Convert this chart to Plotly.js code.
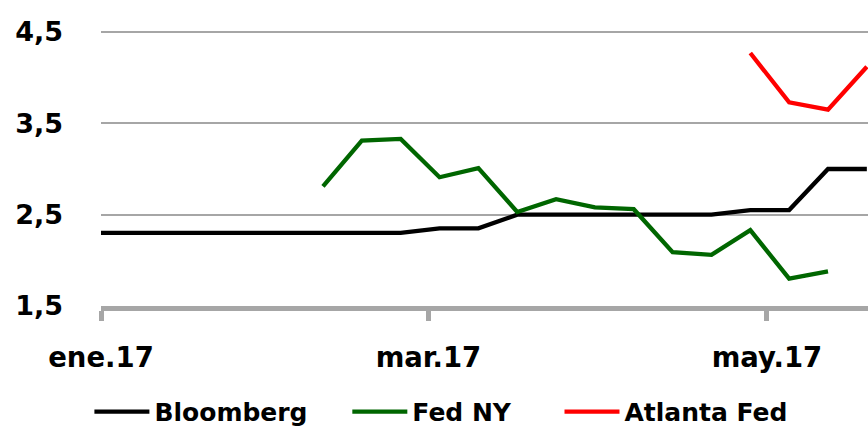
<!DOCTYPE html>
<html>
<head>
<meta charset="utf-8">
<script src="https://cdn.plot.ly/plotly-3.0.1.min.js"></script>
<style>html,body{margin:0;padding:0;background:#fff;overflow:hidden;}</style>
</head>
<body>
<div id="chart" style="width:868px;height:427px;"></div>
<script>
// Weekly observations (Fridays)
const bloombergDates = ['2016-12-30','2017-01-06','2017-01-13','2017-01-20','2017-01-27','2017-02-03','2017-02-10','2017-02-17','2017-02-24','2017-03-03','2017-03-10','2017-03-17','2017-03-24','2017-03-31','2017-04-07','2017-04-14','2017-04-21','2017-04-28','2017-05-05','2017-05-12','2017-05-19'];
const bloombergValues = [2.3,2.3,2.3,2.3,2.3,2.3,2.3,2.3,2.3,2.35,2.35,2.5,2.5,2.5,2.5,2.5,2.5,2.55,2.55,3.0,3.0];

const fedNYDates = ['2017-02-10','2017-02-17','2017-02-24','2017-03-03','2017-03-10','2017-03-17','2017-03-24','2017-03-31','2017-04-07','2017-04-14','2017-04-21','2017-04-28','2017-05-05','2017-05-12'];
const fedNYValues = [2.81,3.31,3.33,2.91,3.01,2.53,2.67,2.58,2.56,2.09,2.06,2.33,1.80,1.88];

const atlantaDates = ['2017-04-28','2017-05-05','2017-05-12','2017-05-19'];
const atlantaValues = [4.27,3.73,3.65,4.12];

const xTickVals = ['2017-01-01','2017-03-01','2017-05-01'];
const xTickText = ['ene.17','mar.17','may.17'];
const yTickVals = [1.5,2.5,3.5,4.5];

const FONT = 'DejaVu Sans, sans-serif';

const traces = [
  {x: bloombergDates, y: bloombergValues, name: 'Bloomberg\u00a0\u00a0\u00a0\u00a0', type: 'scatter', mode: 'lines', line: {color: '#000000', width: 4.3}},
  {x: fedNYDates, y: fedNYValues, name: 'Fed NY\u00a0\u00a0\u00a0\u00a0\u00a0', type: 'scatter', mode: 'lines', line: {color: '#006600', width: 4.3}},
  {x: atlantaDates, y: atlantaValues, name: 'Atlanta Fed', type: 'scatter', mode: 'lines', line: {color: '#ff0000', width: 4.3}}
];

const layout = {
  width: 868, height: 427,
  margin: {l: 101, r: 0, t: 30, b: 121, pad: 0, autoexpand: false},
  paper_bgcolor: '#ffffff', plot_bgcolor: '#ffffff',
  separators: ',.',
  showlegend: true,
  font: {family: FONT, size: 26, color: '#000000'},
  xaxis: {
    type: 'date',
    range: ['2017-01-01', '2017-05-19 05:00'],
    tickmode: 'array', tickvals: xTickVals, ticktext: xTickText,
    showgrid: false, zeroline: false,
    showline: true, linecolor: '#a6a6a6', linewidth: 5,
    ticks: 'outside', ticklen: 10, tickwidth: 5, tickcolor: '#a6a6a6',
    ticklabelstandoff: 13,
    tickfont: {family: FONT, size: 27.5, color: '#000000', weight: 'bold'},
    fixedrange: true
  },
  yaxis: {
    range: [1.5, 4.522],
    tickmode: 'array', tickvals: yTickVals,
    tickformat: '.1f',
    showgrid: true, gridcolor: '#a6a6a6', gridwidth: 2,
    zeroline: false, showline: false,
    ticks: '',
    ticklabelstandoff: 37,
    tickfont: {family: FONT, size: 27, color: '#000000', weight: 'bold'},
    fixedrange: true
  },
  legend: {
    orientation: 'h',
    xref: 'container', yref: 'paper',
    x: 0.103, xanchor: 'left',
    y: -0.3, yanchor: 'top',
    itemwidth: 55,
    font: {family: FONT, size: 25, color: '#000000', weight: 'bold'},
    bgcolor: 'rgba(0,0,0,0)'
  }
};

Plotly.newPlot('chart', traces, layout, {displayModeBar: false, staticPlot: true});
</script>
</body>
</html>
